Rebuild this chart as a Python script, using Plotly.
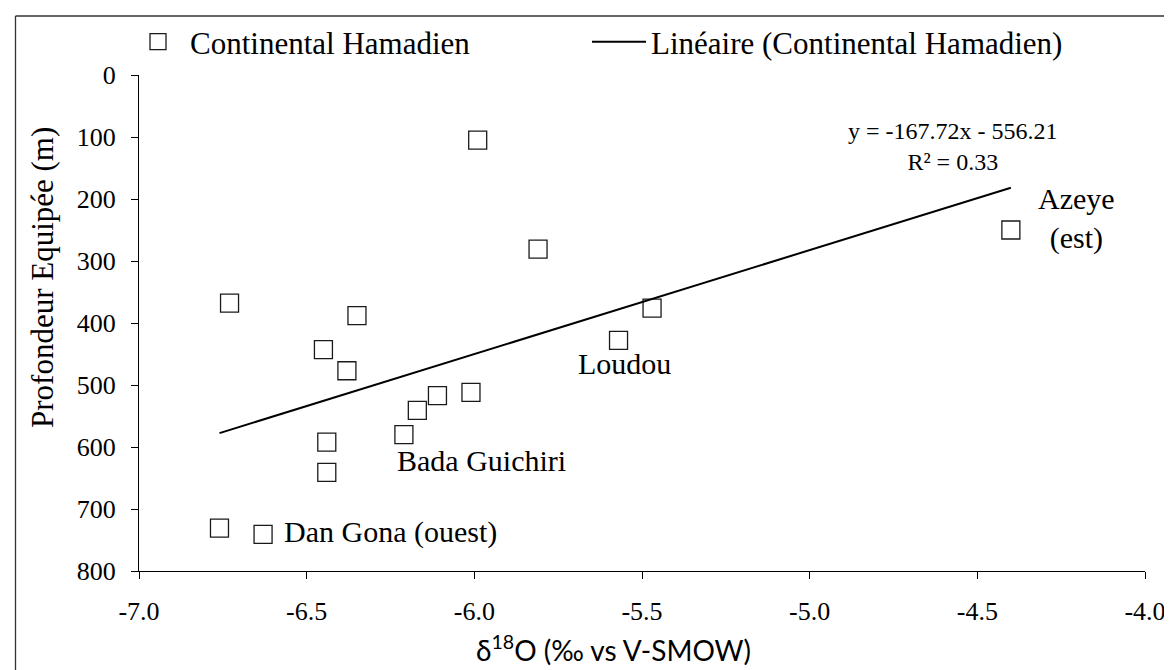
import plotly.graph_objects as go

# ---- data ----
d18o = [-6.73, -6.35, -6.45, -6.38, -6.11, -6.01, -6.17, -6.21, -6.44, -6.44,
        -6.76, -6.63, -5.99, -5.81, -5.47, -5.57, -4.40]
depth = [368, 388, 443, 477, 517, 512, 541, 580, 592, 641,
         731, 741, 105, 281, 376, 428, 250]

slope = -167.72
intercept = -556.21
r2 = 0.33

label_texts = ["Dan Gona (ouest)", "Bada Guichiri", "Loudou", "Azeye<br>(est)"]
label_points = [11, 7, 15, 16]

x_tickvals = [-7.0, -6.5, -6.0, -5.5, -5.0, -4.5, -4.0]
x_ticktext = ["-7.0", "-6.5", "-6.0", "-5.5", "-5.0", "-4.5", "-4.0"]
y_tickvals = [0, 100, 200, 300, 400, 500, 600, 700, 800]
y_ticktext = ["0", "100", "200", "300", "400", "500", "600", "700", "800"]

series_name = "Continental Hamadien"
trend_name = "Linéaire (Continental Hamadien)"
x_title = "δ<sup>18</sup>O (‰ vs V-SMOW)"
y_title = "Profondeur Equipée (m)"

# ---- layout constants (pixels) ----
W, H = 1172, 670
ML, MR, MT, MB = 131, 35, 67, 107
PW, PH = W - ML - MR, H - MT - MB

def px2paper_x(px):
    return (px - ML) / PW

def px2paper_y(py):
    return (H - MB - py) / PH

SERIF = "Times New Roman, Liberation Serif"
SANS = "Lato"

fig = go.Figure()

fig.add_trace(go.Scatter(
    x=d18o, y=depth, mode="markers", name=series_name, legend="legend",
    marker=dict(symbol="square", size=18, color="white",
                line=dict(color="#1a1a1a", width=1.3)),
))

xmin, xmax = min(d18o), max(d18o)
fig.add_trace(go.Scatter(
    x=[xmin, xmax], y=[slope * xmin + intercept, slope * xmax + intercept],
    mode="lines", name=trend_name, legend="legend2",
    line=dict(color="black", width=2),
))

# point labels
label_style = [
    dict(xanchor="left", xshift=19, yshift=2),
    dict(xanchor="left", xshift=-9, yshift=-26),
    dict(xanchor="center", xshift=6, yshift=-23),
    dict(xanchor="center", xshift=66, yshift=12),
]
for txt, idx, st in zip(label_texts, label_points, label_style):
    fig.add_annotation(x=d18o[idx], y=depth[idx], text=txt, showarrow=False,
                       xref="x", yref="y", yanchor="middle",
                       font=dict(family=SERIF, size=30, color="black"), **st)

# equation
fig.add_annotation(x=px2paper_x(945), y=px2paper_y(138), xref="paper", yref="paper",
                   text=f"y = {slope:.2f}x - {abs(intercept):.2f}<br>R² = {r2:.2f}",
                   showarrow=False, xanchor="center", yanchor="middle", align="center",
                   font=dict(family=SERIF, size=24, color="black"))

# axis titles
fig.add_annotation(x=px2paper_x(466), y=px2paper_y(661), xref="paper", yref="paper",
                   text=x_title, showarrow=False, xanchor="left", yanchor="bottom",
                   font=dict(family=SANS, size=28, color="black"))
fig.add_annotation(x=px2paper_x(34), y=px2paper_y(270), xref="paper", yref="paper",
                   text=y_title, showarrow=False, textangle=-90,
                   xanchor="center", yanchor="middle",
                   font=dict(family=SERIF, size=31, color="black"))

# chart border (left and top only, visible in the reference)
fig.add_shape(type="line", xref="paper", yref="paper",
              x0=px2paper_x(7.5), x1=px2paper_x(7.5), y0=px2paper_y(8), y1=px2paper_y(H + 5),
              line=dict(color="#333", width=1.3))
fig.add_shape(type="line", xref="paper", yref="paper",
              x0=px2paper_x(7.5), x1=px2paper_x(W + 5), y0=px2paper_y(8), y1=px2paper_y(8),
              line=dict(color="#333", width=1.3))

tick_font = dict(family=SERIF, size=26, color="black")
axis_common = dict(showgrid=False, zeroline=False, showline=True, linecolor="black",
                   linewidth=1.3, ticks="outside", ticklen=7, tickwidth=1.3,
                   tickcolor="black", ticklabelstandoff=10, tickfont=tick_font)
fig.update_xaxes(range=[-7, -4], tickmode="array", tickvals=x_tickvals,
                 ticktext=x_ticktext, **axis_common)
fig.update_yaxes(range=[800, 0], tickmode="array", tickvals=y_tickvals,
                 ticktext=y_ticktext, **axis_common)

legend_common = dict(orientation="h", xanchor="left", yanchor="middle",
                     y=px2paper_y(34), itemwidth=54, itemsizing="trace",
                     bgcolor="rgba(0,0,0,0)",
                     font=dict(family=SERIF, size=31, color="black"))

fig.update_layout(
    width=W, height=H,
    font=dict(family=SERIF, color="black"),
    margin=dict(l=ML, r=MR, t=MT, b=MB, autoexpand=False),
    paper_bgcolor="white", plot_bgcolor="white",
    showlegend=True,
    legend=dict(x=px2paper_x(118), **legend_common),
    legend2=dict(x=px2paper_x(579), **legend_common),
)

fig.write_html("out.html")
